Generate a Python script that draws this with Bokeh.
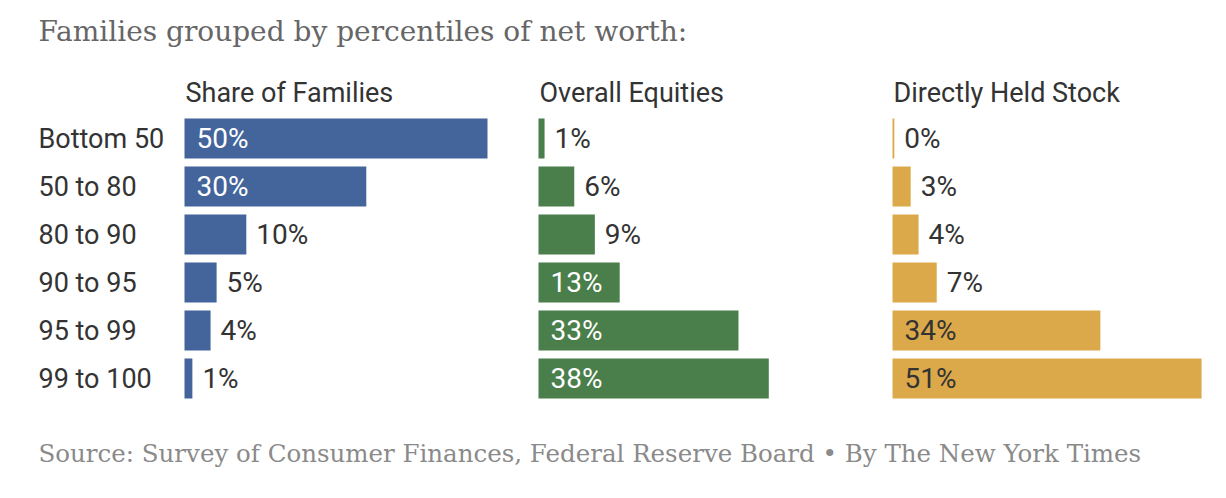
from bokeh.plotting import figure
from bokeh.models import Range1d, Label, ColumnDataSource
from bokeh.core.properties import value
from bokeh.embed import file_html
from bokeh.resources import INLINE

# ---- data ----
groups = ["Bottom 50", "50 to 80", "80 to 90", "90 to 95", "95 to 99", "99 to 100"]
share_of_families = [50, 30, 10.2, 5.3, 4.3, 1.3]
overall_equities = [1.0, 5.9, 9.3, 13.4, 33, 38]
directly_held_stock = [0.3, 3.0, 4.3, 7.3, 34.3, 51]
panel_titles = ["Share of Families", "Overall Equities", "Directly Held Stock"]
title_text = "Families grouped by percentiles of net worth:"
source_text = "Source: Survey of Consumer Finances, Federal Reserve Board \u2022 By The New York Times"

# ---- style ----
colors = ["#44649c", "#4a7e4a", "#dba94a"]
inside_text = ["#ffffff", "#ffffff", "#333333"]
SANS = "Roboto"
SERIF = "DejaVu Serif"
PX = 6.06              # pixels per percentage point
W, H = 1210, 482
LEFT = 184             # bar origin (px from plot left)
TOP = 138              # first row centre (px from plot top)
PANEL_STEP = 354 / PX  # panel spacing in data units
ROW_PX = 48

x0 = -LEFT / PX
p = figure(width=W, height=H, output_backend="svg", toolbar_location=None,
           x_range=Range1d(x0, x0 + W / PX),
           y_range=Range1d((H - TOP) / ROW_PX, -TOP / ROW_PX),
           x_axis_location=None, y_axis_location=None, min_border=0)
p.grid.visible = False
p.outline_line_color = None
p.background_fill_color = "white"
p.border_fill_color = "white"

rows = list(range(len(groups)))
series = [share_of_families, overall_equities, directly_held_stock]

for k, vals in enumerate(series):
    off = k * PANEL_STEP
    src = ColumnDataSource(dict(y=rows, left=[off] * len(vals),
                                right=[off + v for v in vals]))
    p.hbar(y="y", left="left", right="right", height=40 / ROW_PX,
           fill_color=colors[k], line_color=None, source=src)
    ins = [i for i, v in enumerate(vals) if v >= 12]
    outs = [i for i, v in enumerate(vals) if v < 12]
    p.text(x=[off] * len(ins), y=[rows[i] for i in ins],
           text=[f"{round(vals[i])}%" for i in ins],
           x_offset=12, y_offset=0, text_align="left", text_baseline="alphabetic",
           text_font=value(SANS), text_font_size="28px", text_color=inside_text[k])
    p.text(x=[off + vals[i] for i in outs], y=[rows[i] for i in outs],
           text=[f"{round(vals[i])}%" for i in outs],
           x_offset=10, y_offset=0, text_align="left", text_baseline="alphabetic",
           text_font=value(SANS), text_font_size="28px", text_color="#333333")

# panel headers
p.text(x=[k * PANEL_STEP for k in range(3)], y=[-46 / ROW_PX] * 3, text=panel_titles,
       x_offset=1, text_align="left", text_baseline="alphabetic",
       text_font=value(SANS), text_font_size="27px", text_color="#333333")

# row labels
p.text(x=[x0 + 38 / PX] * len(groups), y=rows, text=groups, y_offset=0,
       text_align="left", text_baseline="alphabetic",
       text_font=value(SANS), text_font_size="27px", text_color="#333333")

p.add_layout(Label(x=38, y=H - 31, x_units="screen", y_units="screen", text=title_text,
                   text_font=SERIF, text_font_size="28px", text_color="#666666",
                   text_baseline="alphabetic"))
p.add_layout(Label(x=38, y=H - 453, x_units="screen", y_units="screen", text=source_text,
                   text_font=SERIF, text_font_size="24.5px", text_color="#8a8a8a",
                   text_baseline="alphabetic"))

open("out.html", "w").write(file_html(p, INLINE))
